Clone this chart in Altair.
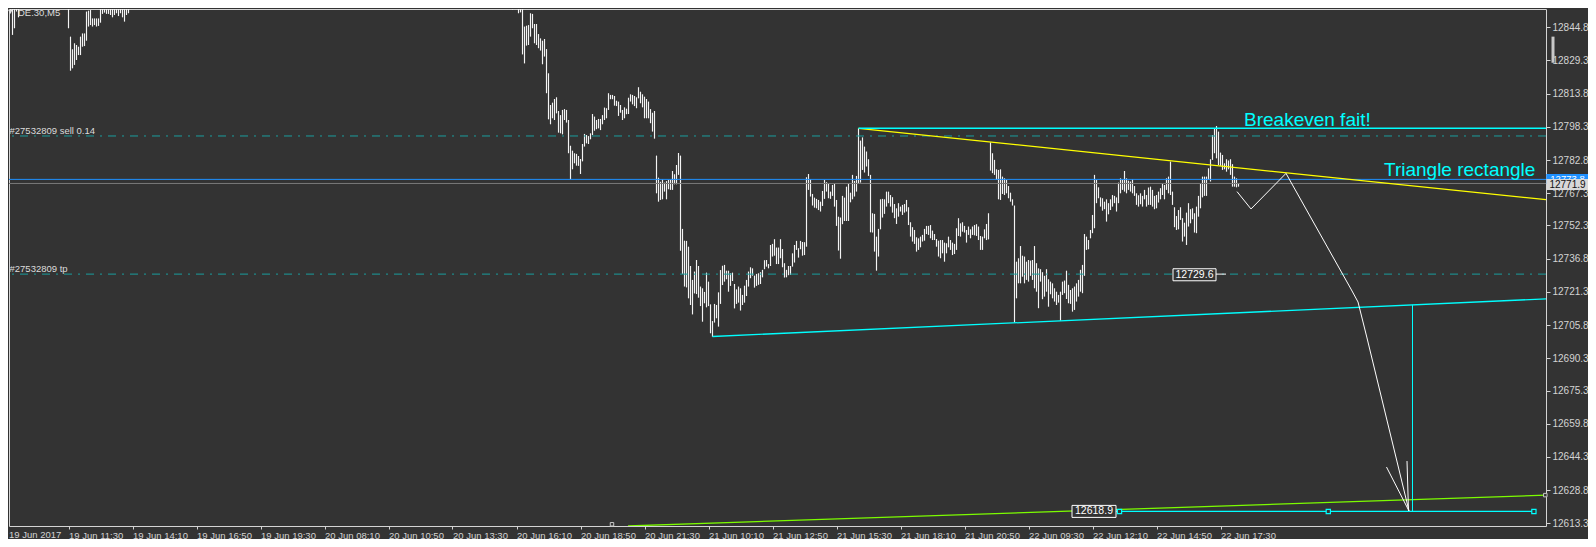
import json
import altair as alt
import pandas as pd

# ---------------- axis labels ----------------
time_labels = ["19 Jun 2017", "19 Jun 11:30", "19 Jun 14:10", "19 Jun 16:50", "19 Jun 19:30",
               "20 Jun 08:10", "20 Jun 10:50", "20 Jun 13:30", "20 Jun 16:10", "20 Jun 18:50",
               "20 Jun 21:30", "21 Jun 10:10", "21 Jun 12:50", "21 Jun 15:30", "21 Jun 18:10",
               "21 Jun 20:50", "22 Jun 09:30", "22 Jun 12:10", "22 Jun 14:50", "22 Jun 17:30"]
time_ticks = [k * 32 for k in range(len(time_labels))]
price_ticks = [12844.8, 12829.3, 12813.8, 12798.3, 12782.8, 12767.3, 12752.3, 12736.8,
               12721.3, 12705.8, 12690.3, 12675.3, 12659.8, 12644.3, 12628.8, 12613.3]

# ---------------- M5 bars (high / low), by bar number ----------------
seg1_high = [12830.3, 12833.4, 12860, 12860, 12860, 12860, 12860, 12860]
seg1_low = [12822.5, 12826.4, 12831.8, 12851.3, 12841.2, 12844.3, 12852.1, 12849.4]

seg2_high = [12860, 12840.4, 12834.5, 12837.3, 12836.5, 12835.7, 12840.4, 12841.9, 12841.9, 12852.1,
             12852.5, 12852.8, 12848.9, 12848.9, 12848.9, 12848.9, 12860, 12860, 12854.4, 12854.4,
             12854.4, 12854.4, 12854.4, 12854.4, 12854.4, 12854.1, 12854.7, 12854.4, 12853.6, 12853.6,
             12860, 12860]
seg2_low = [12844.3, 12824.5, 12825.6, 12827.2, 12829.5, 12831.8, 12831.8, 12835.7, 12836.0, 12838.5,
            12845.1, 12845.8, 12845.1, 12845.8, 12845.1, 12845.4, 12846.9, 12851.0, 12851.6, 12851.0,
            12851.0, 12850.5, 12849.4, 12850.5, 12851.3, 12850.0, 12851.3, 12849.4, 12847.4, 12850.5,
            12851.3, 12854.7]

extra_idx = [65, 254]
extra_high = [12860, 12860]
extra_low = [12855.3, 12853.1]

seg3_high = [12860, 12860, 12860, 12853.3, 12845.1, 12845.5, 12845.8, 12851.3, 12851.0, 12846.3,
             12846.3, 12841.6, 12839.6, 12838.5, 12839.3, 12834.6, 12823.3, 12808.5, 12809.6, 12811.3,
             12812.1, 12805.7, 12803.8, 12806.2, 12806.6, 12806.2, 12801.5, 12789.5, 12787.2, 12786.0,
             12785.7, 12784.7, 12783.3, 12790.3, 12795.0, 12794.5, 12794.0, 12795.3, 12804.3, 12803.1,
             12801.5, 12802.0, 12802.0, 12803.8, 12807.3, 12807.0, 12814.0, 12813.2, 12813.2, 12812.7,
             12810.5, 12810.1, 12808.5, 12806.2, 12807.4, 12806.8, 12811.9, 12813.5, 12813.2, 12812.7,
             12812.1, 12816.8, 12814.7, 12813.5, 12812.4, 12811.3, 12810.1, 12806.6, 12804.9, 12805.7,
             12784.9, 12774.6, 12772.7, 12773.8, 12772.3, 12773.0, 12773.5, 12773.5, 12777.7, 12776.2,
             12780.5, 12786.1, 12784.9, 12750.7, 12745.2, 12745.1, 12742.4, 12733.4, 12726.9, 12730.8,
             12736.2, 12733.4, 12723.8, 12723.0, 12721.3, 12730.3, 12726.1, 12715.5, 12707.7, 12715.7,
             12715.2, 12721.1, 12731.5, 12733.5, 12733.9, 12731.2, 12731.2, 12730.0, 12730.3, 12725.0,
             12722.5, 12723.8, 12723.0, 12719.9, 12724.2, 12726.9, 12730.8]
seg3_low = [12853.6, 12851.3, 12851.7, 12832.1, 12827.9, 12836.2, 12836.5, 12840.4, 12844.3, 12837.3,
            12836.5, 12835.0, 12833.9, 12827.5, 12831.1, 12814.0, 12801.8, 12799.5, 12802.3, 12801.5,
            12804.6, 12795.6, 12795.3, 12794.8, 12801.5, 12800.3, 12786.0, 12773.8, 12778.5, 12781.3,
            12780.2, 12780.1, 12776.3, 12782.2, 12789.1, 12790.6, 12790.3, 12792.5, 12794.5, 12796.5,
            12797.2, 12797.6, 12796.8, 12799.5, 12801.5, 12802.3, 12806.2, 12811.2, 12811.2, 12808.2,
            12808.0, 12803.4, 12804.9, 12801.5, 12802.3, 12804.2, 12804.3, 12810.1, 12808.8, 12808.0,
            12807.0, 12811.6, 12809.3, 12807.4, 12802.3, 12802.3, 12802.3, 12800.0, 12796.1, 12792.8,
            12767.3, 12763.4, 12764.2, 12764.5, 12768.1, 12764.5, 12769.2, 12768.9, 12768.9, 12771.5,
            12771.5, 12775.9, 12740.5, 12729.7, 12723.8, 12723.4, 12718.3, 12715.2, 12710.8, 12720.6,
            12720.3, 12718.6, 12714.7, 12707.4, 12716.0, 12714.1, 12714.7, 12702.0, 12700.4, 12707.0,
            12709.0, 12705.1, 12715.7, 12724.5, 12726.1, 12727.2, 12721.4, 12724.1, 12726.4, 12713.6,
            12715.7, 12716.3, 12712.6, 12715.2, 12716.3, 12719.4, 12723.8]

seg4_high = [12732.8, 12732.3, 12728.9, 12729.7, 12730.0, 12730.5, 12731.6, 12736.1, 12736.2, 12734.3,
             12743.2, 12743.7, 12745.9, 12742.0, 12742.0, 12745.9, 12741.3, 12734.7, 12731.6, 12733.4,
             12733.4, 12739.3, 12743.2, 12745.1, 12741.7, 12745.1, 12744.6, 12744.5, 12774.8, 12776.3,
             12773.9, 12767.0, 12765.3, 12764.7, 12764.2, 12763.4, 12768.4, 12773.5, 12772.5, 12771.7,
             12768.1, 12771.2, 12771.7, 12764.2, 12756.4, 12756.0, 12766.1, 12765.3, 12770.4, 12772.0,
             12767.6, 12775.9, 12773.1, 12775.4, 12797.6, 12791.9, 12793.4, 12789.1, 12786.8, 12783.2,
             12775.9, 12758.0, 12757.7, 12747.1, 12750.7, 12764.5, 12764.7, 12764.5, 12768.1, 12768.1,
             12766.5, 12765.5, 12762.3, 12760.3, 12762.7, 12761.1, 12761.9, 12762.3, 12764.2, 12760.8,
             12753.8, 12751.5, 12750.2, 12746.8, 12746.3, 12747.1, 12747.9, 12750.7, 12752.1, 12752.1,
             12752.5, 12749.9, 12748.3, 12746.0, 12745.2, 12745.5, 12745.5, 12744.3, 12744.0, 12747.1,
             12745.5, 12744.3, 12743.7, 12751.0, 12755.7, 12753.3, 12753.8, 12752.1, 12750.2, 12751.8,
             12750.5, 12751.8, 12752.5, 12752.9, 12751.8, 12747.4, 12747.1, 12750.5, 12753.0, 12758.0,
             12791.1, 12786.0, 12782.9, 12778.5, 12778.2]
seg4_low = [12727.7, 12728.9, 12723.3, 12724.1, 12724.6, 12725.0, 12728.1, 12731.9, 12733.1, 12732.3,
            12733.4, 12737.8, 12738.2, 12734.3, 12734.3, 12737.0, 12732.8, 12728.0, 12728.1, 12729.1,
            12729.2, 12733.1, 12735.0, 12740.9, 12737.3, 12741.2, 12738.2, 12738.5, 12742.4, 12768.9,
            12765.8, 12761.6, 12760.6, 12760.3, 12759.5, 12758.8, 12761.4, 12764.7, 12768.1, 12765.0,
            12764.7, 12766.1, 12761.1, 12752.1, 12740.6, 12736.8, 12752.9, 12754.4, 12754.4, 12754.4,
            12763.1, 12764.5, 12765.8, 12768.1, 12771.7, 12772.3, 12778.2, 12777.0, 12779.8, 12775.4,
            12749.1, 12749.0, 12740.1, 12731.2, 12737.8, 12750.5, 12756.0, 12757.7, 12761.1, 12762.7,
            12761.1, 12758.3, 12755.7, 12753.0, 12756.4, 12758.8, 12757.2, 12758.3, 12758.8, 12752.5,
            12747.1, 12744.8, 12743.7, 12740.1, 12740.9, 12742.1, 12744.8, 12745.2, 12748.3, 12747.9,
            12746.3, 12745.5, 12745.5, 12742.4, 12737.8, 12737.0, 12739.3, 12735.4, 12739.3, 12742.1,
            12740.9, 12738.5, 12739.0, 12740.9, 12747.4, 12747.1, 12749.4, 12749.0, 12744.3, 12747.9,
            12746.3, 12747.9, 12747.7, 12747.4, 12745.5, 12740.9, 12740.9, 12746.3, 12745.5, 12745.8,
            12777.9, 12776.7, 12775.9, 12773.5, 12764.5]

seg5_high = [12778.5, 12775.1, 12774.3, 12773.5, 12770.7, 12767.6, 12764.5, 12761.6, 12735.4, 12737.0,
             12742.7, 12738.2, 12737.8, 12735.4, 12736.2, 12735.9, 12736.2, 12742.7, 12734.7, 12732.3,
             12731.9, 12730.5, 12728.8, 12731.9, 12727.2, 12726.1, 12725.3, 12723.0, 12721.4, 12719.9,
             12721.4, 12726.1, 12726.6, 12731.2, 12724.6, 12722.2, 12723.0, 12723.8, 12725.3, 12726.9,
             12731.6, 12733.9, 12748.3, 12747.1, 12745.5, 12750.2, 12757.2, 12775.9, 12773.5, 12770.1,
             12765.4, 12765.0, 12763.4, 12764.5, 12762.7, 12764.5, 12766.5, 12766.1, 12765.4, 12772.3,
             12774.3, 12773.5, 12777.7, 12774.3, 12773.2, 12772.8, 12773.9, 12770.7, 12767.3, 12766.4,
             12767.3, 12766.1, 12768.9, 12766.5, 12770.0, 12770.4, 12768.9, 12766.1, 12766.5, 12768.1,
             12769.7, 12771.7, 12771.2, 12774.3, 12775.1, 12782.1, 12768.1, 12760.8, 12756.7, 12759.5,
             12760.8, 12755.7, 12753.6, 12758.3, 12762.7, 12759.9, 12760.3, 12758.0, 12761.1, 12766.1,
             12771.7, 12775.1, 12775.1, 12775.1, 12779.0, 12783.2, 12794.5, 12797.6, 12798.7, 12796.1,
             12786.3, 12785.2, 12781.3, 12783.2, 12782.6, 12783.2, 12780.9, 12775.1, 12774.3, 12772.0]
seg5_low = [12764.2, 12767.0, 12766.5, 12767.3, 12765.0, 12763.4, 12761.6, 12707.1, 12718.3, 12725.3,
            12725.3, 12728.4, 12725.3, 12726.9, 12726.1, 12728.8, 12726.9, 12723.0, 12721.4, 12713.7,
            12726.1, 12717.9, 12719.1, 12721.4, 12714.4, 12720.2, 12718.3, 12716.8, 12715.2, 12716.3,
            12707.9, 12719.9, 12720.7, 12718.0, 12716.0, 12715.7, 12712.1, 12712.9, 12716.8, 12719.1,
            12721.4, 12720.7, 12728.8, 12740.9, 12741.2, 12746.3, 12748.7, 12751.0, 12762.7, 12765.0,
            12761.1, 12759.2, 12759.9, 12754.1, 12757.5, 12759.5, 12761.1, 12762.7, 12758.8, 12762.7,
            12767.3, 12768.9, 12768.1, 12767.3, 12768.9, 12768.1, 12767.3, 12766.1, 12761.9, 12761.1,
            12762.2, 12761.1, 12764.5, 12761.1, 12761.9, 12761.9, 12761.1, 12759.9, 12760.3, 12763.0,
            12764.5, 12766.5, 12764.5, 12768.9, 12767.3, 12766.5, 12761.9, 12751.5, 12750.2, 12750.5,
            12754.9, 12744.8, 12747.1, 12743.2, 12751.8, 12753.3, 12755.2, 12749.0, 12748.7, 12756.4,
            12760.3, 12765.4, 12766.1, 12766.1, 12773.5, 12772.8, 12782.9, 12786.0, 12783.6, 12780.5,
            12780.1, 12778.2, 12778.5, 12777.4, 12778.5, 12775.9, 12770.4, 12770.4, 12770.1, 12770.4]

bar_index = (list(range(0, 8)) + list(range(32, 64)) + extra_idx + list(range(256, 373))
             + list(range(373, 498)) + list(range(498, 618)))
bar_high = seg1_high + seg2_high + extra_high + seg3_high + seg4_high + seg5_high
bar_low = seg1_low + seg2_low + extra_low + seg3_low + seg4_low + seg5_low

# ---------------- horizontal price levels ----------------
order_levels = [12794.05, 12729.6]          # sell open / take profit (dash-dot)
bid_level = 12773.8
last_level = 12771.9

# ---------------- drawn objects (bar number, price) ----------------
seg_i = [427, 427, 354, 311.75, 704.0, 555.75, 605.75, 691.0, 701.25]
seg_p = [12797.6, 12797.6, 12700.5, 12612.1, 12715.3, 12618.9, 12729.6, 12639.6, 12642.4]
seg_i2 = [774, 774, 774, 774, 704.0, 764.75, 610.75, 702.25, 702.0]
seg_p2 = [12764.0, 12797.6, 12718.2, 12626.6, 12618.9, 12618.9, 12729.6, 12619.1, 12619.1]
seg_col = ["#ffff00", "#00ffff", "#00ffff", "#7cfc00", "#00ffff", "#00ffff", "#ffffff", "#ffffff", "#ffffff"]
seg_w = [1.3, 1.5, 1.3, 1.3, 1.0, 1.3, 1, 1, 1]

path_i = [616.25, 623.25, 640.75, 673.5, 676.75, 681.25, 702.25]
path_p = [12768.1, 12760.0, 12776.6, 12722.2, 12716.6, 12699.8, 12619.1]

marker_i = [557.5, 661.9, 764.7]
marker_p = [12618.9, 12618.9, 12618.9]

BG = "#333333"
FG = "#d4d4d4"
FONT = "Liberation Sans"

X_LO, X_HI = 2.25, 770.75
xscale = alt.Scale(domain=[X_LO, X_HI], nice=False, zero=False)
yscale = alt.Scale(domain=[12612.09, 12853.29], nice=False, zero=False)
xaxis = alt.Axis(values=time_ticks[1:], labelExpr=json.dumps(time_labels) + "[round(datum.value / 32)]",
                 orient="bottom", title=None, grid=False, domain=False, tickSize=3, tickColor=FG,
                 labelColor=FG, labelFont=FONT, labelFontSize=9.5, labelAlign="left",
                 labelBaseline="top", labelPadding=1, labelFlush=False, labelOverlap=False)
yaxis = alt.Axis(values=price_ticks, format=".1f", orient="right", title=None, grid=False,
                 domain=False, tickSize=4, tickColor=FG, labelColor=FG, labelFont=FONT,
                 labelFontSize=10, labelPadding=2, labelOverlap=False, labelFlush=False)
X = alt.X("i:Q", scale=xscale, axis=xaxis)
Y = alt.Y("p:Q", scale=yscale, axis=yaxis)

bars = alt.Chart(pd.DataFrame({"i": bar_index, "p": bar_high, "p2": bar_low})).mark_rule(
    clip=True, color="#f4f4f4", strokeWidth=1.15).encode(x=X, y=Y, y2="p2:Q")

dash_lines = alt.Chart(pd.DataFrame({"p": order_levels})).mark_rule(
    color="#1a9e9e", strokeWidth=1, strokeDash=[8, 6, 2, 6]).encode(y=Y)
gray_line = alt.Chart(pd.DataFrame({"p": [last_level]})).mark_rule(
    color="#7a7a7a", strokeWidth=1).encode(y=Y)
blue_line = alt.Chart(pd.DataFrame({"p": [bid_level]})).mark_rule(
    color="#1e90ff", strokeWidth=1).encode(y=Y)

segs = alt.Chart(pd.DataFrame({"i": seg_i, "p": seg_p, "i2": seg_i2, "p2": seg_p2,
                               "c": seg_col, "w": seg_w})).mark_rule(clip=True).encode(
    x=X, y=Y, x2="i2:Q", y2="p2:Q",
    color=alt.Color("c:N", scale=None), strokeWidth=alt.StrokeWidth("w:Q", scale=None))

path = alt.Chart(pd.DataFrame({"i": path_i, "p": path_p, "o": list(range(len(path_i)))})).mark_line(
    color="#ffffff", strokeWidth=1, clip=True).encode(x=X, y=Y, order="o:Q")

markers = alt.Chart(pd.DataFrame({"i": marker_i, "p": marker_p})).mark_point(
    shape="square", size=18, fill=BG, stroke="#00ffff", strokeWidth=1.2, opacity=1).encode(x=X, y=Y)
small_markers = alt.Chart(pd.DataFrame({"i": [770.4, 303.75], "p": [12626.5, 12612.9]})).mark_point(
    shape="square", size=12, fill=BG, stroke="#c8c8c8", strokeWidth=1, opacity=1).encode(x=X, y=Y)

# label boxes (in-chart and on price scale)
box_i = [584.25, 533.75]
box_i2 = [605.75, 555.75]
box_p = [12732.1, 12621.7]
box_p2 = [12726.5, 12616.1]
boxes = alt.Chart(pd.DataFrame({"i": box_i, "i2": box_i2, "p": box_p, "p2": box_p2})).mark_rect(
    fill=BG, stroke="#ffffff", strokeWidth=1).encode(x=X, x2="i2:Q", y=Y, y2="p2:Q")
box_text = alt.Chart(pd.DataFrame({"i": [595.0, 544.75], "p": [12729.3, 12618.9],
                                   "t": ["12729.6", "12618.9"]})).mark_text(
    font=FONT, fontSize=10.5, color="#ffffff", align="center", baseline="middle").encode(
    x=X, y=Y, text="t:N")

scroll = alt.Chart(pd.DataFrame({"i": [773.5], "i2": [775.0], "p": [12840.4], "p2": [12828.2]})).mark_rect(
    fill="#c8c8c8").encode(x=X, x2="i2:Q", y=Y, y2="p2:Q")
blue_box = alt.Chart(pd.DataFrame({"i": [770.9], "i2": [792.0], "p": [12776.3], "p2": [12771.6]})).mark_rect(
    fill="#1e90ff").encode(x=X, x2="i2:Q", y=Y, y2="p2:Q")
blue_text = alt.Chart(pd.DataFrame({"i": [781.5], "p": [12773.85], "t": ["12773.8"]})).mark_text(
    font=FONT, fontSize=9.5, color="#ffffff", align="center", baseline="middle").encode(x=X, y=Y, text="t:N")
gray_box = alt.Chart(pd.DataFrame({"i": [770.9], "i2": [792.0], "p": [12773.97], "p2": [12768.85]})).mark_rect(
    fill="#d8d8d8").encode(x=X, x2="i2:Q", y=Y, y2="p2:Q")
gray_text = alt.Chart(pd.DataFrame({"i": [781.5], "p": [12771.41], "t": ["12771.9"]})).mark_text(
    font=FONT, fontSize=10, color="#101010", align="center", baseline="middle").encode(x=X, y=Y, text="t:N")

# first date label (its tick lies left of the visible plot edge)
first_date = alt.Chart(pd.DataFrame({"i": [X_LO], "p": [12610.1], "t": [time_labels[0]]})).mark_text(
    font=FONT, fontSize=9.5, color=FG, align="left", baseline="top").encode(x=X, y=Y, text="t:N")

# texts
small_txt = alt.Chart(pd.DataFrame({
    "i": [6.75, 2.5, 2.5],
    "p": [12850.2, 12794.97, 12730.82],
    "t": ["DE.30,M5", "#27532809 sell 0.14", "#27532809 tp"]})).mark_text(
    font=FONT, fontSize=9.5, color="#dcdcdc", align="left", baseline="alphabetic").encode(
    x=X, y=Y, text="t:N")
big_txt = alt.Chart(pd.DataFrame({
    "i": [619.75, 689.75],
    "p": [12798.7, 12775.38],
    "t": ["Breakeven fait!", "Triangle rectangle"]})).mark_text(
    font=FONT, fontSize=19, color="#00ffff", align="left", baseline="alphabetic").encode(
    x=X, y=Y, text="t:N")
icon = alt.Chart(pd.DataFrame({"i": [2.9], "p": [12852.0]})).mark_point(
    shape="triangle-down", filled=True, color="#e0e0e0", size=22, opacity=1).encode(x=X, y=Y)

PLOT_W = int(round((X_HI - X_LO) * 2))   # 2 px per bar
chart = alt.layer(
    bars, dash_lines, gray_line, blue_line, segs, path, markers, small_markers,
    boxes, box_text, scroll, blue_box, blue_text, gray_box, gray_text, first_date,
    small_txt, big_txt, icon
).properties(
    width=PLOT_W, height=517,
    padding={"left": 1, "top": 1, "right": 1580 - 1 - PLOT_W, "bottom": 13},
    autosize=alt.AutoSizeParams(type="none"),
    background=BG,
).configure_view(stroke=FG, strokeWidth=1)

chart.save("out.html", embed_options={"renderer": "svg", "actions": False})
